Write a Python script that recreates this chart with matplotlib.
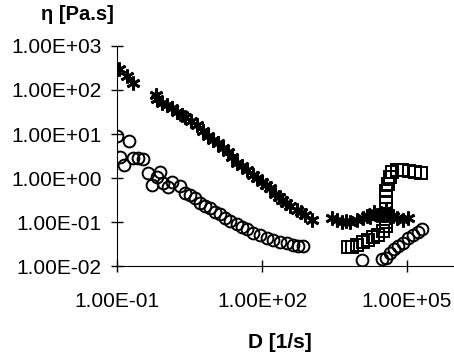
import matplotlib
matplotlib.use('Agg')
import matplotlib.pyplot as plt
from matplotlib.ticker import FuncFormatter, LogLocator

plt.rcParams['font.family'] = ['Liberation Sans', 'DejaVu Sans']

# stars: viscosity, low shear branch + high shear branch
star_D = [0.11, 0.161, 0.214, 0.64, 0.67, 0.855, 1.08, 1.38, 1.75, 2.22, 2.56, 3.4,
          4.53, 6.0, 7.66, 9.7, 12.3, 15.7, 19.9, 24, 30.5, 38.7, 49, 65, 79, 100,
          122, 147, 187, 220, 261, 320, 382, 533, 650, 780, 1090,
          2830, 3590, 4550, 5500, 6670, 9300, 12400, 14500, 17300, 20900, 24200, 28000,
          32100, 37100, 44900, 52000, 62700, 83400, 106000]
star_eta = [300, 208, 144, 77, 62, 51, 46, 39, 31.6, 27, 24.3, 20,
            16, 11.7, 9.0, 7.3, 6.24, 4.8, 3.9, 3.0, 2.19, 1.87, 1.52, 1.17, 1.0, 0.81,
            0.7, 0.59, 0.43, 0.37, 0.316, 0.27, 0.231, 0.187, 0.165, 0.144, 0.111,
            0.123, 0.111, 0.1, 0.105, 0.1, 0.111, 0.123, 0.14, 0.13, 0.169, 0.144, 0.16,
            0.144, 0.187, 0.13, 0.14, 0.123, 0.111, 0.123]

# circles
circ_D = [0.1, 0.115, 0.177, 0.14, 0.214, 0.272, 0.345, 0.44, 0.53, 0.67, 0.78, 0.9,
          1.14, 1.38, 2.0, 2.56, 3.25, 4.12, 5.23, 6.6, 8.4, 10.7, 13.6, 17.2, 21.9,
          30.5, 38.7, 49, 65, 91, 128, 170, 237, 331, 440, 559, 710,
          11800, 30700, 37100, 44900, 55000, 66000, 82000, 104000, 130000, 165000, 208000]
circ_eta = [9.0, 3.0, 6.9, 1.97, 2.85, 2.85, 2.7, 1.3, 0.69, 1.05, 1.37, 0.77,
            0.62, 0.81, 0.66, 0.456, 0.41, 0.351, 0.27, 0.231, 0.208, 0.169, 0.152, 0.123, 0.105,
            0.09, 0.077, 0.069, 0.056, 0.051, 0.043, 0.039, 0.035, 0.033, 0.03, 0.0285, 0.0285,
            0.0137, 0.0145, 0.0152, 0.0197, 0.0243, 0.0285, 0.0333, 0.043, 0.051, 0.059, 0.068]

# squares
sq_D = [5900, 7300, 9300, 12400, 15700, 19900, 25300, 32000, 37200, 37200, 37200,
        37200, 37200, 37200, 37200, 40800, 44900, 49000, 63000, 80000, 110000, 147000, 195000]
sq_eta = [0.027, 0.027, 0.03, 0.036, 0.039, 0.045, 0.05, 0.062, 0.081, 0.1, 0.14,
          0.2, 0.28, 0.38, 0.52, 0.72, 1.05, 1.37, 1.52, 1.52, 1.44, 1.37, 1.3]

fig = plt.figure(figsize=(4.54, 3.62), dpi=100)
ax = fig.add_axes([0.258, 0.265, 0.745, 0.608])

ax.plot(star_D, star_eta, linestyle='none', marker=(6, 2, 0), ms=10, mew=2.0, color='black')
ax.plot(circ_D, circ_eta, linestyle='none', marker='o', ms=8.5, mfc='none', mew=1.4, color='black')
ax.plot(sq_D, sq_eta, linestyle='none', marker='s', ms=8, mfc='none', mew=1.4, color='black')

ax.set_xscale('log')
ax.set_yscale('log')
ax.set_xlim(0.1, 1e6)
ax.set_ylim(0.01, 1000)

ax.yaxis.set_major_locator(LogLocator(base=10))
ax.xaxis.set_minor_locator(plt.NullLocator())
ax.yaxis.set_minor_locator(plt.NullLocator())
fmt = FuncFormatter(lambda v, p: f"{v:.2E}")
ax.xaxis.set_major_formatter(fmt)
ax.yaxis.set_major_formatter(fmt)
ax.set_xticks([0.1, 100, 1e5])

ax.spines['top'].set_visible(False)
ax.spines['right'].set_visible(False)
ax.tick_params(axis='both', direction='inout', length=8, width=1.0, labelsize=15)
ax.tick_params(axis='x', pad=15)
ax.tick_params(axis='y', pad=7)

fig.text(0.17, 0.959, 'η [Pa.s]', fontsize=14.5, fontweight='bold', ha='center', va='center')
fig.text(0.617, 0.055, 'D [1/s]', fontsize=15, fontweight='bold', ha='center', va='center')

plt.savefig('out.png', dpi=100)
